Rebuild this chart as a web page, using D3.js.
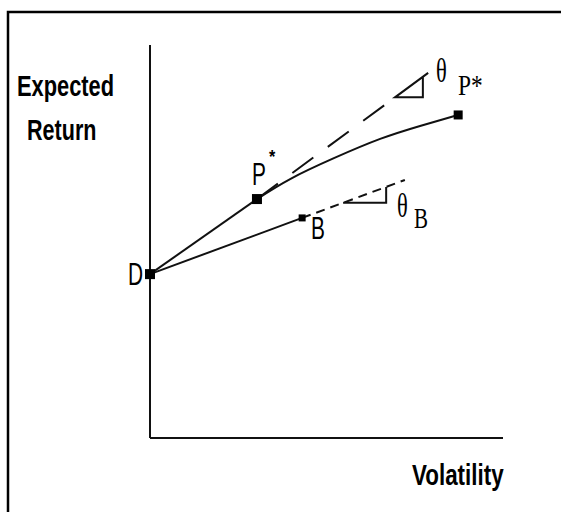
<!DOCTYPE html>
<html><head><meta charset="utf-8">
<script src="https://cdn.jsdelivr.net/npm/d3@7"></script>
<style>html,body{margin:0;padding:0;background:#fff;overflow:hidden}</style>
</head><body>
<svg id="c" width="561" height="512"></svg>
<script>
// ---- data (arbitrary units: volatility 0-100, expected return 0-100) ----
const pointNames = ["D", "P*", "B", "End"];
const pointX = [0, 30.3, 43.1, 87.3];
const pointY = [41.7, 60.8, 56.0, 82.2];
// efficient curve from P* out to the right
const curveX = [30.3, 39.7, 52.1, 65.2, 76.5, 87.3];
const curveY = [60.8, 65.9, 71.2, 76.1, 79.4, 82.2];
// tangent at P* (dashed) end, and the B line extension end
const tangentEndX = [69.4, 78.8];
const tangentEndY = [86.8, 92.9];
const bExtEndX = 72.2;
const triBX = [54.7, 66.9];
const triPX = [69.4, 77.3];
const axisLabels = ["Expected", "Return", "Volatility"];

const svg = d3.select("#c");
const x = d3.scaleLinear().domain([0, 100]).range([150, 503]);
const y = d3.scaleLinear().domain([0, 100]).range([438, 45]);
const ink = "#111";

// frame
svg.append("path").attr("d", "M8,520 V12 H570").attr("fill", "none")
  .attr("stroke", "#000").attr("stroke-width", 2.5);

// axes
svg.append("line").attr("x1", x(0)).attr("x2", x(0)).attr("y1", y(100)).attr("y2", y(0))
  .attr("stroke", ink).attr("stroke-width", 2);
svg.append("line").attr("x1", x(0)).attr("x2", x(100)).attr("y1", y(0)).attr("y2", y(0))
  .attr("stroke", ink).attr("stroke-width", 2);

const D = [pointX[0], pointY[0]], P = [pointX[1], pointY[1]], B = [pointX[2], pointY[2]], E = [pointX[3], pointY[3]];
const line = d3.line().x(d => x(d[0])).y(d => y(d[1]));

// D-P*, D-B solid
svg.append("path").attr("d", line([D, P])).attr("stroke", ink).attr("stroke-width", 2).attr("fill", "none");
svg.append("path").attr("d", line([D, B])).attr("stroke", ink).attr("stroke-width", 2).attr("fill", "none");

// curve P* -> end
svg.append("path").attr("d", d3.line().curve(d3.curveNatural).x(d => x(d[0])).y(d => y(d[1]))(curveX.map((v, i) => [v, curveY[i]])))
  .attr("stroke", ink).attr("stroke-width", 2).attr("fill", "none");

// tangent at P* (dashed)
const tSlope = (tangentEndY[1] - P[1]) / (tangentEndX[1] - P[0]);
const tAt = xx => P[1] + tSlope * (xx - P[0]);
svg.append("path").attr("d", line([P, [triPX[0], tAt(triPX[0])]]))
  .attr("stroke", ink).attr("stroke-width", 2).attr("fill", "none").attr("stroke-dasharray", "26,18");
// triangle theta P*
svg.append("path").attr("d", line([[tangentEndX[1], tangentEndY[1]], [triPX[0], tAt(triPX[0])], [triPX[1], tAt(triPX[0])], [triPX[1], tAt(triPX[1])]]))
  .attr("stroke", ink).attr("stroke-width", 2).attr("fill", "none");

// B extension (dashed)
const bSlope = (B[1] - D[1]) / (B[0] - D[0]);
const bAt = xx => D[1] + bSlope * (xx - D[0]);
svg.append("path").attr("d", line([B, [bExtEndX, bAt(bExtEndX)]]))
  .attr("stroke", ink).attr("stroke-width", 2).attr("fill", "none").attr("stroke-dasharray", "9,6");
svg.append("path").attr("d", line([[triBX[0], bAt(triBX[0])], [triBX[1], bAt(triBX[0])], [triBX[1], bAt(triBX[1])]]))
  .attr("stroke", ink).attr("stroke-width", 2).attr("fill", "none");

// markers
const msize = [10, 10, 7, 9];
svg.selectAll("rect.m").data(pointNames).join("rect").attr("class", "m")
  .attr("x", (d, i) => x(pointX[i]) - msize[i] / 2).attr("y", (d, i) => y(pointY[i]) - msize[i] / 2)
  .attr("width", (d, i) => msize[i]).attr("height", (d, i) => msize[i]).attr("fill", "#000");

// text helper
function txt(s, tx, ty, size, sx, sy, fam, weight) {
  svg.append("text").text(s).attr("transform", `translate(${tx},${ty}) scale(${sx},${sy})`)
    .attr("font-family", fam).attr("font-size", size).attr("font-weight", weight || "normal").attr("fill", "#000");
}
const sans = "'Liberation Sans', Arial, sans-serif";
const serif = "'Liberation Serif', 'Times New Roman', serif";
txt(axisLabels[0], 17, 96, 28, 0.78, 1.05, sans, "bold");
txt(axisLabels[1], 27, 140, 28, 0.77, 1.05, sans, "bold");
txt(axisLabels[2], 412, 485, 28, 0.8, 1.05, sans, "bold");
txt("D", 128, 285, 29, 0.72, 1.05, sans);
txt("P", 252, 185, 29, 0.72, 1.05, sans);
txt("*", 269, 163, 18, 0.9, 1, sans, "bold");
txt("B", 311, 239, 29, 0.72, 1.05, sans);
txt("θ", 436, 82, 30, 0.75, 1.15, serif);
txt("P*", 458, 95, 30, 0.78, 1, serif);
txt("θ", 397, 217, 30, 0.75, 1.15, serif);
txt("B", 414, 228, 30, 0.7, 1, serif);
</script>
</body></html>
